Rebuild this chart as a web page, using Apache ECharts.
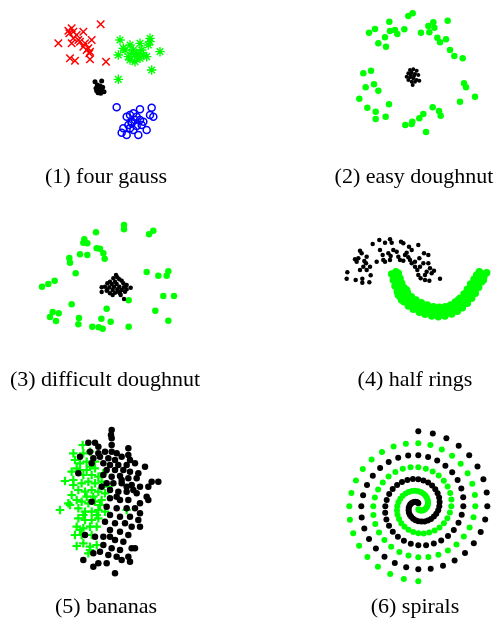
<!DOCTYPE html>
<html>
<head>
<meta charset="utf-8">
<script src="https://cdn.jsdelivr.net/npm/echarts@6/dist/echarts.min.js"></script>
<style>html,body{margin:0;padding:0;background:#fff;}#c{width:497px;height:629px;}</style>
</head>
<body>
<div id="c"></div>
<script>
// captions
var captions = ['(1) four gauss', '(2) easy doughnut', '(3) difficult doughnut', '(4) half rings', '(5) bananas', '(6) spirals'];

// (1) four gauss
var gaussRed = [[182,73],[95,85],[100,95],[88,100],[130,95],[110,105],[55,130],[95,130],[120,125],[135,130],[155,120],[100,115],[145,145],[150,155],[148,160],[130,140],[90,175],[105,182],[150,178],[198,185],[85,92],[115,120],[140,150]];
var gaussGreen = [[240,120],[270,135],[300,130],[330,115],[325,135],[360,155],[235,165],[255,150],[275,160],[290,170],[285,185],[300,175],[310,165],[320,170],[270,180],[280,150],[250,145],[335,210],[235,238],[290,160],[265,170],[305,150],[330,125]];
var gaussBlack = [[165,245],[185,243],[172,255],[180,258],[188,262],[168,265],[178,268],[186,272],[174,278],[182,280],[192,275],[170,272]];
var gaussBlue = [[230,322],[300,328],[335,323],[270,345],[280,340],[260,350],[290,350],[300,360],[285,360],[275,365],[265,375],[330,345],[340,350],[310,365],[250,385],[270,385],[280,390],[245,398],[260,405],[295,405],[320,390],[290,378],[305,375],[275,370]];

// (2) easy doughnut
var easyGreen = [[205,48],[218,40],[148,65],[105,87],[87,98],[165,90],[150,93],[172,102],[193,88],[135,112],[115,130],[138,140],[243,98],[265,78],[280,67],[283,83],[268,97],[323,62],[292,113],[300,127],[318,118],[330,150],[343,168],[368,175],[70,220],[93,212],[102,253],[77,262],[115,272],[58,296],[82,323],[107,335],[147,313],[107,357],[137,350],[196,375],[217,365],[215,372],[238,355],[250,342],[278,322],[297,333],[302,347],[258,396],[360,305],[405,290],[372,250],[378,262]];
var easyBlack = [[210,210],[220,208],[230,212],[205,220],[215,218],[225,222],[235,225],[200,230],[210,232],[220,235],[230,240],[238,242],[205,240],[215,245],[225,245],[218,255],[212,225],[222,228]];

// (3) difficult doughnut
var hardGreen = [[282,105],[282,118],[370,122],[357,133],[198,127],[163,148],[160,158],[172,160],[200,175],[210,176],[220,190],[224,206],[150,193],[172,195],[118,204],[120,218],[137,250],[350,246],[385,257],[415,244],[410,257],[74,272],[55,282],[36,290],[125,343],[230,356],[296,331],[400,318],[432,318],[376,362],[415,392],[68,366],[86,370],[60,381],[78,393],[147,384],[145,403],[214,386],[242,395],[187,410],[206,412],[218,416],[296,410]];
var hardBlack = [[258,255],[262,262],[250,265],[268,268],[240,275],[255,275],[275,272],[232,280],[245,282],[260,282],[280,280],[290,285],[225,290],[238,292],[252,290],[268,290],[282,292],[302,293],[215,292],[232,300],[248,300],[262,298],[275,300],[290,298],[215,306],[240,310],[255,308],[270,310],[285,305],[248,315],[272,315],[282,327],[230,302],[265,305]];

// (4) half rings
var ringBlack = [[128,132],[148,120],[165,128],[180,118],[185,128],[213,125],[220,130],[237,140],[265,135],[90,152],[95,160],[75,178],[80,185],[85,175],[103,183],[108,190],[100,200],[90,210],[52,217],[50,236],[77,240],[97,236],[97,248],[118,247],[122,226],[110,210],[140,185],[158,165],[165,185],[175,160],[182,168],[190,150],[200,155],[205,170],[210,180],[220,182],[225,165],[235,172],[245,190],[245,150],[255,200],[262,210],[265,225],[272,235],[285,240],[298,242],[290,215],[300,205],[305,220],[312,212],[330,236],[280,190],[295,190],[282,160],[295,165],[268,175],[160,180],[180,180],[110,170],[120,200],[240,180],[230,158],[150,150],[255,185],[270,200],[285,225]];
var ringGreen = [[185,222],[190,240],[195,258],[202,275],[210,290],[222,305],[235,318],[250,328],[268,337],[285,343],[305,348],[325,350],[345,348],[365,342],[382,334],[397,323],[412,310],[425,295],[436,280],[446,262],[455,245],[462,228],[470,218],
  [205,220],[210,235],[215,250],[222,263],[232,278],[244,290],[258,300],[274,308],[292,315],[310,320],[328,322],[346,320],[362,315],[376,306],[390,295],[402,282],[412,268],[422,252],[432,238],[440,225],[448,215],
  [195,230],[200,248],[207,265],[215,280],[226,295],[240,306],[255,316],[272,324],[290,330],[308,334],[326,336],[345,334],[362,328],[378,320],[392,310],[405,297],[417,283],[428,268],[438,252],[447,236],[455,222],
  [198,215],[205,285],[230,270],[265,320],[300,340],[335,342],[370,330],[400,305],[420,275],[450,230],[460,240],[215,300],[250,300],[280,330],[318,328],[355,325],[385,300],[430,260],[444,250],[190,225]];

// (5) bananas
var bananaBlack = [[215,30],[213,45],[215,55],[145,68],[165,68],[175,80],[215,75],[265,85],[150,95],[175,100],[195,95],[215,95],[230,100],[245,110],[265,105],[160,115],[180,110],[205,115],[225,120],[270,120],[120,110],[155,130],[190,130],[210,135],[235,135],[260,135],[285,130],[315,140],[200,150],[225,150],[250,150],[270,155],[295,160],[190,165],[215,170],[240,168],[265,175],[290,175],[115,160],[335,185],[355,185],[325,200],[200,190],[220,190],[245,190],[275,195],[300,200],[210,210],[235,215],[260,215],[290,220],[320,230],[325,240],[155,245],[210,235],[240,240],[265,240],[300,250],[200,260],[230,265],[260,265],[285,265],[300,280],[210,285],[240,290],[270,290],[295,300],[195,305],[225,310],[255,310],[275,320],[300,320],[210,330],[240,335],[265,345],[190,350],[135,345],[165,350],[225,360],[250,365],[190,375],[215,385],[240,390],[285,385],[180,395],[160,400],[205,405],[230,410],[265,410],[275,385],[130,420],[175,430],[160,440],[200,430],[245,420],[270,425],[225,460],[210,350],[245,180],[260,200],[280,210],[185,200],[230,230]];
var bananaGreen = [[128,75],[100,100],[105,120],[130,100],[150,95],[95,155],[110,145],[120,150],[140,150],[150,140],[165,145],[130,165],[155,165],[175,170],[190,160],[75,183],[100,195],[125,190],[145,185],[165,190],[185,185],[95,225],[115,210],[135,215],[155,210],[175,215],[195,220],[60,270],[90,255],[110,240],[125,245],[145,250],[165,245],[185,240],[135,275],[155,275],[175,270],[195,275],[115,295],[135,300],[155,300],[175,295],[130,285],[110,320],[130,325],[150,320],[170,320],[105,345],[125,345],[155,345],[110,378],[130,370],[150,380],[170,375],[145,400],[150,390],[120,330],[160,230],[180,255],[140,230],[170,285],[100,180],[120,130],[140,125],[165,125],[205,200],[260,270],[85,250],[115,265]];

// (6) spirals
var spiralBlack = [[0,75],[14.5,72.8],[28.1,67.9],[40.4,60.5],[50.9,50.9],[59.2,39.6],[65.1,27.0],[68.4,13.6],[69,0],[66.9,-13.3],[62.4,-25.8],[55.5,-37.1],[46.7,-46.7],[36.3,-54.3],[24.7,-59.6],[12.4,-62.5],[0,-63],[-12.1,-61.1],[-23.5,-56.8],[-33.8,-50.5],[-42.4,-42.4],[-49.3,-32.9],[-54.0,-22.4],[-56.6,-11.3],[-57,0],[-55.2,11.0],[-51.3,21.2],[-45.5,30.4],[-38.2,38.2],[-29.6,44.3],[-20.1,48.5],[-10.1,50.8],[0,51],[9.8,49.3],[18.9,45.7],[27.1,40.5],[33.9,33.9],[39.3,26.3],[43.0,17.8],[44.9,8.9],[45,0],[43.4,-8.6],[40.2,-16.6],[35.5,-23.8],[29.7,-29.7],[22.9,-34.3],[15.5,-37.4],[7.8,-39.0],[0,-39],[-7.5,-37.5],[-14.4,-34.6],[-20.4,-30.6],[-25.5,-25.5],[-29.3,-19.6],[-31.9,-13.2],[-33.1,-6.6],[-33,0],[-31.6,6.3],[-29.1,12.1],[-25.6,17.1],[-21.2,21.2],[-16.3,24.3],[-10.9,26.3],[-5.4,27.2],[0,27],[5.1,25.7],[9.8,23.6],[13.8,20.6],[17.0,17.0],[19.3,12.9],[20.8,8.6],[21.3,4.2],[21,0],[19.9,-4.0],[18.0,-7.5],[15.6,-10.4],[12.7,-12.7],[9.6,-14.3],[6.3,-15.2],[3.1,-15.4],[0,-15],[-2.8,-14.0],[-5.2,-12.5],[-7.1,-10.6],[-8.5,-8.5],[-9.4,-6.3],[-9.7,-4.0],[-9.6,-1.9],[-9,0],[-8.1,1.6],[-6.9,2.9],[-5.6,3.8],[-4.2,4.2],[-2.9,4.4],[-1.7,4.2],[-0.7,3.7],[0,3]];
var spiralGreen = [[0,-75],[-14.5,-72.8],[-28.1,-67.9],[-40.4,-60.5],[-50.9,-50.9],[-59.2,-39.6],[-65.1,-27.0],[-68.4,-13.6],[-69,0],[-66.9,13.3],[-62.4,25.8],[-55.5,37.1],[-46.7,46.7],[-36.3,54.3],[-24.7,59.6],[-12.4,62.5],[0,63],[12.1,61.1],[23.5,56.8],[33.8,50.5],[42.4,42.4],[49.3,32.9],[54.0,22.4],[56.6,11.3],[57,0],[55.2,-11.0],[51.3,-21.2],[45.5,-30.4],[38.2,-38.2],[29.6,-44.3],[20.1,-48.5],[10.1,-50.8],[0,-51],[-9.8,-49.3],[-18.9,-45.7],[-27.1,-40.5],[-33.9,-33.9],[-39.3,-26.3],[-43.0,-17.8],[-44.9,-8.9],[-45,0],[-43.4,8.6],[-40.2,16.6],[-35.5,23.8],[-29.7,29.7],[-22.9,34.3],[-15.5,37.4],[-7.8,39.0],[0,39],[7.5,37.5],[14.4,34.6],[20.4,30.6],[25.5,25.5],[29.3,19.6],[31.9,13.2],[33.1,6.6],[33,0],[31.6,-6.3],[29.1,-12.1],[25.6,-17.1],[21.2,-21.2],[16.3,-24.3],[10.9,-26.3],[5.4,-27.2],[0,-27],[-5.1,-25.7],[-9.8,-23.6],[-13.8,-20.6],[-17.0,-17.0],[-19.3,-12.9],[-20.8,-8.6],[-21.3,-4.2],[-21,0],[-19.9,4.0],[-18.0,7.5],[-15.6,10.4],[-12.7,12.7],[-9.6,14.3],[-6.3,15.2],[-3.1,15.4],[0,15],[2.8,14.0],[5.2,12.5],[7.1,10.6],[8.5,8.5],[9.4,6.3],[9.7,4.0],[9.6,1.9],[9,0],[8.1,-1.6],[6.9,-2.9],[5.6,-3.8],[4.2,-4.2],[2.9,-4.4],[1.7,-4.2],[0.7,-3.7],[0,-3]];

var GREEN = '#00ff00', RED = '#ff0000', BLUE = '#0000ff', BLACK = '#000000';
var crossPath = 'path://M0,0L10,10M10,0L0,10';
var starPath = 'path://M5,0L5,10M0,5L10,5M1.5,1.5L8.5,8.5M8.5,1.5L1.5,8.5';
var plusPath = 'path://M5,0L5,10M0,5L10,5';

var chart = echarts.init(document.getElementById('c'), null, {renderer: 'canvas'});

var grids = [
  {left: 40, top: 0, width: 140, height: 145},
  {left: 340, top: 0, width: 150, height: 145},
  {left: 30, top: 190, width: 160, height: 140},
  {left: 330, top: 200, width: 167, height: 130},
  {left: 40, top: 420, width: 130, height: 160},
  {left: 340.3, top: 428.2, width: 156, height: 156}
];
var xr = [[0,420],[0,450],[0,480],[0,501],[0,390],[-78,78]];
var yr = [[0,435],[0,435],[0,420],[0,390],[0,480],[-78,78]];

var xAxes = [], yAxes = [];
for (var i = 0; i < 6; i++) {
  xAxes.push({type: 'value', gridIndex: i, min: xr[i][0], max: xr[i][1], show: false});
  yAxes.push({type: 'value', gridIndex: i, min: yr[i][0], max: yr[i][1], show: false, inverse: i < 5});
}

function dots(g, data, color, size, z) {
  return {type: 'scatter', xAxisIndex: g, yAxisIndex: g, data: data, symbol: 'circle', symbolSize: size,
    itemStyle: {color: color, opacity: 1}, clip: false, silent: true, z: z || 2};
}
function strokes(g, data, symbol, color, size, lw, z) {
  return {type: 'scatter', xAxisIndex: g, yAxisIndex: g, data: data, symbol: symbol, symbolSize: size,
    itemStyle: {color: 'none', borderColor: color, borderWidth: lw, opacity: 1}, clip: false, silent: true, z: z || 2};
}

var series = [
  strokes(0, gaussRed, crossPath, RED, 7.5, 1.5),
  strokes(0, gaussGreen, starPath, GREEN, 9.5, 1.4),
  dots(0, gaussBlack, BLACK, 5),
  strokes(0, gaussBlue, 'circle', BLUE, 7, 1.5),
  dots(1, easyGreen, GREEN, 6.5),
  dots(1, easyBlack, BLACK, 4),
  dots(2, hardGreen, GREEN, 6.5),
  dots(2, hardBlack, BLACK, 4.5),
  dots(3, ringBlack, BLACK, 4.5),
  dots(3, ringGreen, GREEN, 7.5),
  strokes(4, bananaGreen, plusPath, GREEN, 8.5, 2.2),
  dots(4, bananaBlack, BLACK, 6.5, 3),
  dots(5, spiralBlack, BLACK, 6),
  dots(5, spiralGreen, GREEN, 6)
];

var capPos = [[106,177],[414,177],[105,380],[415,380],[106,607],[415,607]];
var graphic = captions.map(function (t, i) {
  return {type: 'text', x: capPos[i][0], y: capPos[i][1], silent: true,
    style: {text: t, fill: '#000', fontSize: 22, fontFamily: '"Liberation Serif", "DejaVu Serif", serif',
      align: 'center', verticalAlign: 'middle'}};
});

chart.setOption({
  animation: false,
  backgroundColor: '#ffffff',
  grid: grids,
  xAxis: xAxes,
  yAxis: yAxes,
  series: series,
  graphic: graphic
});
</script>
</body>
</html>
